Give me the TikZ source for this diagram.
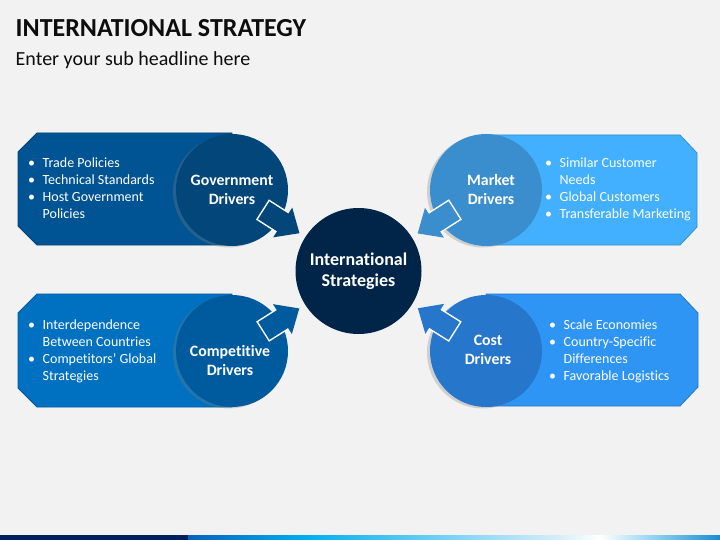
\documentclass[tikz,border=0pt]{standalone}
\usepackage{fontspec}
\setmainfont[Ligatures=NoCommon]{Carlito}
\usetikzlibrary{positioning}
\usetikzlibrary{arrows.meta}
\usetikzlibrary{shadows}

\definecolor{bg}{RGB}{242,242,242}
\definecolor{govpanel}{RGB}{0,84,147}
\definecolor{govdark}{RGB}{2,70,122}
\definecolor{mktpanel}{RGB}{66,176,255}
\definecolor{mktdark}{RGB}{58,142,206}
\definecolor{cmppanel}{RGB}{0,112,192}
\definecolor{cmpdark}{RGB}{0,90,158}
\definecolor{costpanel}{RGB}{46,149,245}
\definecolor{costdark}{RGB}{38,118,204}
\definecolor{hubnavy}{RGB}{0,37,72}
\definecolor{barnavy}{RGB}{0,32,96}
\definecolor{barblue}{RGB}{10,98,188}
\definecolor{barcyan}{RGB}{0,174,239}
\definecolor{barpale}{RGB}{215,238,250}
\definecolor{barsky}{RGB}{150,215,242}
\definecolor{barend}{RGB}{25,140,212}

\begin{document}
\begin{tikzpicture}[x=1pt,y=-1pt]
  \tikzstyle{heading}=[anchor=base west, inner sep=0pt, text=black!95]
  \tikzstyle{panel}=[line width=0.8pt]
  \tikzstyle{driver}=[circle, minimum size=112pt, inner sep=0pt, drop shadow={shadow xshift=-3pt, shadow yshift=-1.5pt, opacity=.3}]
  \tikzstyle{drivertext}=[text=white, align=center, font=\fontsize{15.8}{19}\selectfont\bfseries]
  \tikzstyle{bullets}=[anchor=base west, inner sep=0pt, text=white, font=\fontsize{14}{17}\selectfont]
  \tikzstyle{hubstate}=[circle, fill=hubnavy, minimum size=126pt, inner sep=0pt, text=white, align=center, font=\fontsize{18}{21}\selectfont\bfseries]
  \tikzstyle{rim}=[draw=white, line width=24pt, shorten <=-20pt, shorten >=27pt]
  \tikzstyle{flow}=[line width=21pt, -{Triangle[width=34pt,length=20pt]}, shorten <=-18.5pt, shorten >=6.8pt]

  \fill[bg] (0,0) rectangle (720,540);
  \useasboundingbox (0,0) rectangle (720,540);

  % headings
  \node[heading, font=\fontsize{26}{30}\selectfont\bfseries] (title) at (15.5,37) {INTERNATIONAL STRATEGY};
  \node[heading, font=\fontsize{20}{23}\selectfont] (subtitle) at (15.5,65.5) {Enter your sub headline here};

  % panels
  \draw[panel, fill=govpanel, draw=govpanel!80!black] (37,133) -- (232,133) -- (232,245) -- (37,245) -- (18,226) -- (18,152) -- cycle;
  \draw[panel, fill=mktpanel, draw=mktpanel!80!black] (486,135) -- (680,135) -- (697,153) -- (697,227) -- (680,245) -- (486,245) -- cycle;
  \draw[panel, fill=cmppanel, draw=cmppanel!80!black] (37,294) -- (232,294) -- (232,407) -- (37,407) -- (18,388) -- (18,313) -- cycle;
  \draw[panel, fill=costpanel, draw=costpanel!80!black] (486,294) -- (680,294) -- (698,313) -- (698,387) -- (680,406) -- (486,406) -- cycle;

  % bullet lists
  \node[bullets] (govlist) at (28,168) {\begin{tabular}[t]{@{}l@{\hspace{7.5pt}}l@{}}
    \textbullet & Trade Policies\\
    \textbullet & Technical Standards\\
    \textbullet & Host Government\\
                & Policies
  \end{tabular}};
  \node[bullets] (mktlist) at (545,168) {\begin{tabular}[t]{@{}l@{\hspace{7.5pt}}l@{}}
    \textbullet & Similar Customer\\
                & Needs\\
    \textbullet & Global Customers\\
    \textbullet & Transferable Marketing
  \end{tabular}};
  \node[bullets] (cmplist) at (28,329) {\begin{tabular}[t]{@{}l@{\hspace{7.5pt}}l@{}}
    \textbullet & Interdependence\\
                & Between Countries\\
    \textbullet & Competitors’ Global\\
                & Strategies
  \end{tabular}};
  \node[bullets] (costlist) at (549,329) {\begin{tabular}[t]{@{}l@{\hspace{7.5pt}}l@{}}
    \textbullet & Scale Economies\\
    \textbullet & Country-Specific\\
                & Differences\\
    \textbullet & Favorable Logistics
  \end{tabular}};

  % drivers
  \node[driver, fill=govdark]  (gov)  at (232,190) {};
  \node[driver, fill=mktdark]  (mkt)  at (486,190) {};
  \node[driver, fill=cmpdark]  (cmp)  at (232,351) {};
  \node[driver, fill=costdark] (cost) at (486,351) {};

  \node[drivertext] (govtext)  at (232,190) {Government\\Drivers};
  \node[drivertext] (mkttext)  at (491,190) {Market\\Drivers};
  \node[drivertext] (cmptext)  at (230,361) {Competitive\\Drivers};
  \node[drivertext] (costtext) at (488,350) {Cost\\Drivers};

  % hub
  \node[hubstate] (hub) at (358.5,271) {International\\Strategies};

  % arrows
  \draw[rim] (gov) -- (hub);
  \draw[flow, draw=govdark, fill=govdark] (gov) -- (hub);
  \draw[rim] (mkt) -- (hub);
  \draw[flow, draw=mktdark, fill=mktdark] (mkt) -- (hub);
  \draw[rim] (cmp) -- (hub);
  \draw[flow, draw=cmpdark, fill=cmpdark] (cmp) -- (hub);
  \draw[rim] (cost) -- (hub);
  \draw[flow, draw=costdark, fill=costdark] (cost) -- (hub);

  % bottom bar
  \fill[barnavy] (0,535) rectangle (188,540);
  \shade[left color=barblue, right color=barcyan] (188,535) rectangle (305,540);
  \shade[left color=barcyan, right color=barpale] (305,535) rectangle (560,540);
  \shade[left color=barpale, right color=white] (560,535) rectangle (600,540);
  \shade[left color=white, right color=barsky] (600,535) rectangle (650,540);
  \shade[left color=barsky, right color=barend] (650,535) rectangle (720,540);
\end{tikzpicture}
\end{document}
